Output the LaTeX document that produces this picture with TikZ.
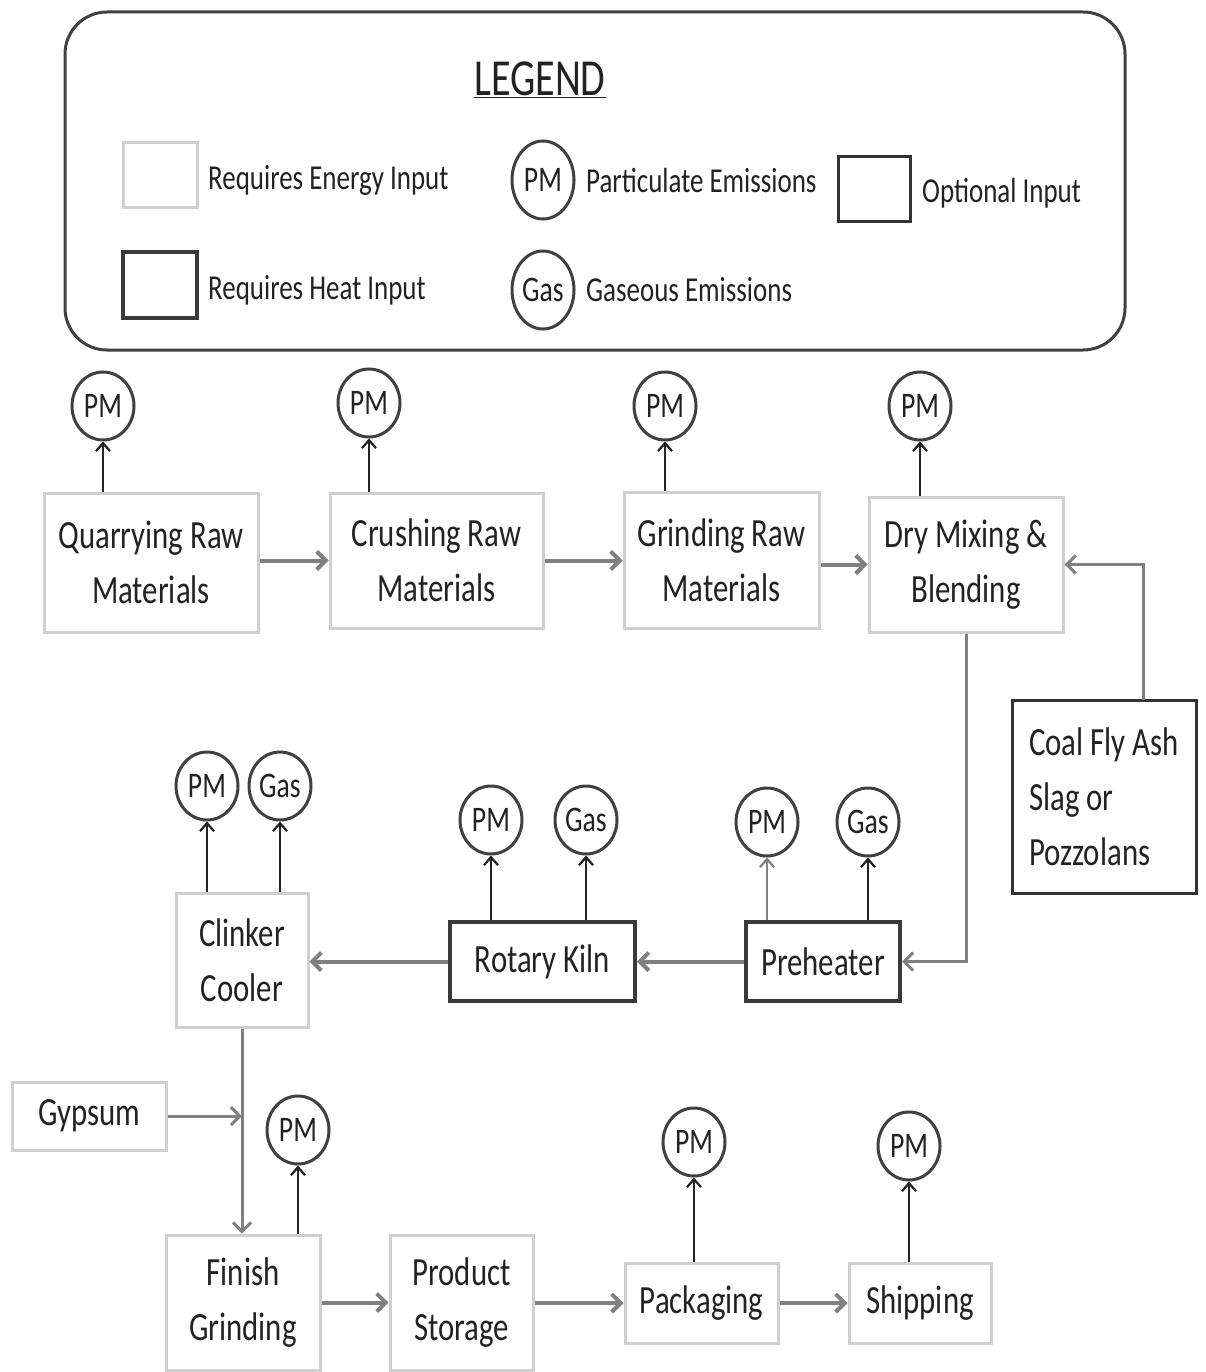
\documentclass[tikz,border=0pt]{standalone}
\usepackage{fontspec}
\setmainfont{Carlito}[FakeStretch=0.77]
\usetikzlibrary{arrows.meta,shapes.geometric}
\definecolor{ink}{HTML}{222222}
\definecolor{lightedge}{HTML}{CFCFCF}
\definecolor{heatedge}{HTML}{3A3A3A}
\definecolor{optedge}{HTML}{333333}
\definecolor{flowgray}{HTML}{808080}
\definecolor{emitedge}{HTML}{404040}
\begin{document}
\begin{tikzpicture}[x=1pt,y=-1pt,
  every node/.style={text=ink},
  boxtext/.style={font=\fontsize{40}{55}\selectfont, align=center},
  energybox/.style={draw=lightedge, line width=3pt, fill=white, boxtext, inner sep=0pt},
  heatbox/.style={draw=heatedge, line width=4pt, fill=white, boxtext, inner sep=0pt},
  optbox/.style={draw=optedge, line width=3pt, fill=white, boxtext, inner sep=0pt},
  emis/.style={ellipse, draw=emitedge, line width=3pt, minimum width=62pt, minimum height=68pt,
               inner sep=0pt, font=\fontsize{36}{40}\selectfont},
  legtext/.style={anchor=west, font=\fontsize{35}{40}\selectfont, inner sep=0pt},
  flow/.style={draw=flowgray, line width=4pt, -{Straight Barb[length=9pt,width=18pt]}},
  flowthin/.style={draw=flowgray, line width=3pt, -{Straight Barb[length=9pt,width=18pt]}},
  emit/.style={draw=ink, line width=2.2pt, -{Straight Barb[length=8pt,width=14pt]}},
]
\useasboundingbox (0,0) rectangle (1206,1372);
\fill[white] (0,0) rectangle (1206,1372);

% ---------- legend ----------
\node[draw=emitedge, line width=3pt, rounded corners=42pt, minimum width=1060pt, minimum height=338pt]
  (legend) at (595,181) {};
\node[font=\fontsize{52}{60}\selectfont] (legtitle) at (540,80) {\underline{LEGEND}};
\node[energybox, minimum width=74pt, minimum height=65pt] (kenergy) at (160,175.5) {};
\node[legtext] (tenergy) at (208,180) {Requires Energy Input};
\node[heatbox, minimum width=74pt, minimum height=66pt] (kheat) at (160,285) {};
\node[legtext] (theat) at (208,290) {Requires Heat Input};
\node[emis, minimum height=78pt] (kpm) at (543,180) {PM};
\node[legtext] (tpm) at (586,180) {Particulate Emissions};
\node[emis, minimum height=78pt] (kgas) at (543,290) {Gas};
\node[legtext] (tgas) at (586,290) {Gaseous Emissions};
\node[optbox, minimum width=72pt, minimum height=65pt] (kopt) at (874,189.5) {};
\node[legtext] (topt) at (922,193) {Optional Input};

% ---------- raw material line ----------
\node[energybox, minimum width=214pt, minimum height=139pt] (quarry) at (151,562.5) {Quarrying Raw\\Materials};
\node[energybox, minimum width=213pt, minimum height=135pt] (crush) at (436.5,560.5) {Crushing Raw\\Materials};
\node[energybox, minimum width=195pt, minimum height=136pt] (grind) at (721.5,560) {Grinding Raw\\Materials};
\node[energybox, minimum width=194pt, minimum height=135pt] (mix) at (966,564.5) {Dry Mixing \&\\Blending};
\node[optbox, minimum width=184pt, minimum height=193pt, align=left]
  (ash) at (1104,796.5) {Coal Fly Ash\\Slag or\\Pozzolans};

\node[emis] (pmquarry) at (103,406) {PM};
\node[emis] (pmcrush) at (369,403) {PM};
\node[emis] (pmgrind) at (665,406) {PM};
\node[emis] (pmmix) at (920,406) {PM};

% ---------- pyroprocessing ----------
\node[heatbox, minimum width=154pt, minimum height=79pt] (preheat) at (823,961.5) {Preheater};
\node[heatbox, minimum width=185pt, minimum height=79pt] (kiln) at (542.5,961.5) {Rotary Kiln};
\node[energybox, minimum width=132pt, minimum height=134pt] (cooler) at (242,960) {Clinker\\Cooler};

\node[emis] (pmcool) at (207,786) {PM};
\node[emis] (gascool) at (280,786) {Gas};
\node[emis] (pmkiln) at (491,820) {PM};
\node[emis] (gaskiln) at (586,820) {Gas};
\node[emis] (pmpre) at (767,822) {PM};
\node[emis] (gaspre) at (868,822) {Gas};

% ---------- finishing ----------
\node[energybox, minimum width=154pt, minimum height=68pt] (gypsum) at (89,1116) {Gypsum};
\node[energybox, minimum width=154pt, minimum height=135pt] (finish) at (243,1302.5) {Finish\\Grinding};
\node[energybox, minimum width=143pt, minimum height=135pt] (store) at (461.5,1302.5) {Product\\Storage};
\node[energybox, minimum width=153pt, minimum height=80pt] (pack) at (701.5,1303) {Packaging};
\node[energybox, minimum width=142pt, minimum height=80pt] (ship) at (920,1303) {Shipping};

\node[emis] (pmfinish) at (298,1130) {PM};
\node[emis] (pmpack) at (694,1142) {PM};
\node[emis] (pmship) at (909,1146) {PM};

% ---------- material flow ----------
\draw[flow] (quarry.east |- crush.west) -- (crush.west);
\draw[flow] (crush.east) -- (grind.west |- crush.east);
\draw[flow] (grind.east |- mix.west) -- (mix.west);
\coordinate (ashout) at (1143,700);
\draw[flowthin] (ashout) |- (mix.east);
\draw[flowthin] (mix.south) |- (preheat.east);
\draw[flow] (preheat.west) -- (kiln.east);
\draw[flow] (kiln.west) -- (cooler.east |- kiln.west);
\draw[flowthin] (cooler.south) -- (cooler.south |- finish.north);
\draw[flowthin] (gypsum.east) -- (gypsum.east -| cooler.south);
\draw[flow] (finish.east) -- (store.west);
\draw[flow] (store.east |- pack.west) -- (pack.west);
\draw[flow] (pack.east) -- (ship.west);

% ---------- emissions ----------
\draw[emit] (pmquarry |- quarry.north) -- (pmquarry.south);
\draw[emit] (pmcrush |- crush.north) -- (pmcrush.south);
\draw[emit] (pmgrind |- grind.north) -- (pmgrind.south);
\draw[emit] (pmmix |- mix.north) -- (pmmix.south);
\draw[emit] (pmcool |- cooler.north) -- (pmcool.south);
\draw[emit] (gascool |- cooler.north) -- (gascool.south);
\draw[emit] (pmkiln |- kiln.north) -- (pmkiln.south);
\draw[emit] (gaskiln |- kiln.north) -- (gaskiln.south);
\draw[emit, draw=flowgray] (pmpre |- preheat.north) -- (pmpre.south);
\draw[emit] (gaspre |- preheat.north) -- (gaspre.south);
\draw[emit] (pmfinish |- finish.north) -- (pmfinish.south);
\draw[emit] (pmpack |- pack.north) -- (pmpack.south);
\draw[emit] (pmship |- ship.north) -- (pmship.south);
\end{tikzpicture}
\end{document}
